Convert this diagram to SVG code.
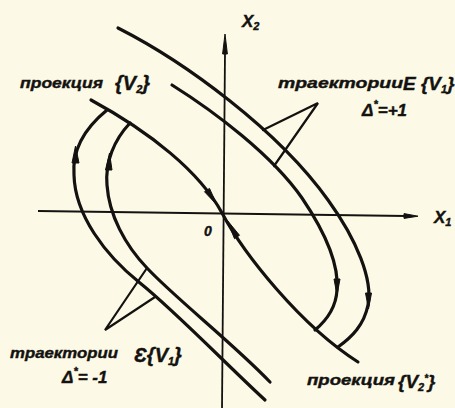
<svg xmlns="http://www.w3.org/2000/svg" width="455" height="408" viewBox="0 0 455 408">
<style>
.crv{fill:none;stroke:#141210;stroke-width:3.2;stroke-linecap:round;stroke-linejoin:round}
.ax{fill:none;stroke:#141210;stroke-width:1.8}
.ld{fill:none;stroke:#141210;stroke-width:2.2;stroke-linecap:round}
.ah{fill:#141210;stroke:#141210;stroke-width:1;stroke-linejoin:round}
.t{font-family:"Liberation Sans",Arial,sans-serif;font-style:italic;font-weight:bold;fill:#141210;stroke:#141210;stroke-width:0.4}
</style>
<rect width="455" height="408" fill="#fcfae6"/>
<g id="connectors">
  <g id="axes">
    <path class="ax" d="M38,211 L406,216"/>
    <polygon class="ah" points="418,216.2 404,213.6 404,218.4"/>
    <path class="ax" d="M222,408 L225,52"/>
    <polygon class="ah" points="225,34 222.6,54 227.4,54"/>
  </g>
  <g id="projection">
    <path class="crv" d="M91,100 C150,132 200,172 222,213 C244,254 300,325 358,362"/>
    <polygon class="ah" points="217,205 209.5,188.4 204.5,191.7"/>
    <polygon class="ah" points="227,220 239.5,235.3 234.5,238.7"/>
  </g>
  <g id="trajectories-right">
    <path class="crv" d="M172,85 C215,112 272,155 302,198 C327,235 339,265 337,290 C336,308 327,320 315,330"/>
    <path class="crv" d="M118,28 C185,62 278,130 328,200 C357,240 373,280 368,305 C364,325 352,337 338,347"/>
    <polygon class="ah" points="337,295 334,279 340,279"/>
    <polygon class="ah" points="368.5,309 365.5,293 371.5,293"/>
  </g>
  <g id="trajectories-left">
    <path class="crv" d="M107,110 C85,128 72,150 74,175 C75,215 105,255 140,283 C175,311 230,368 265,400"/>
    <path class="crv" d="M130,123 C114,140 105,162 107,185 C109,215 125,245 147,268 C175,298 235,345 270,382"/>
    <polygon class="ah" points="75.5,146 72,163 79,163"/>
    <polygon class="ah" points="109.5,153 105.5,170 112,170"/>
  </g>
  <g id="leaders">
    <path class="ld" d="M263,130 L318,103 L274,166"/>
    <path class="ld" d="M147,268 L105,330 L155,297"/>
  </g>
</g>
<g id="label-x2"><text class="t" x="242" y="27" font-size="17">X<tspan font-size="11" dy="3">2</tspan></text></g>
<g id="label-x1"><text class="t" x="434" y="223" font-size="17">X<tspan font-size="11" dy="3">1</tspan></text></g>
<g id="label-origin"><text class="t" x="204" y="236" font-size="14">0</text></g>
<g id="label-proj-v2">
  <text class="t" x="20" y="88" font-size="15" textLength="83" lengthAdjust="spacingAndGlyphs">проекция</text>
  <text class="t" x="115" y="90" font-size="20">{V<tspan font-size="11" dy="3">2</tspan><tspan dy="-3">}</tspan></text>
</g>
<g id="label-traj-plus">
  <text class="t" x="278" y="88" font-size="15" textLength="125" lengthAdjust="spacingAndGlyphs">траектории</text>
  <text class="t" x="403" y="90" font-size="19">Е {V<tspan font-size="11" dy="3">1</tspan><tspan dy="-3">}</tspan></text>
  <text class="t" x="362" y="116" font-size="17">Δ<tspan font-size="11" dy="-8">*</tspan><tspan dy="8">=+1</tspan></text>
</g>
<g id="label-traj-minus">
  <text class="t" x="10" y="358" font-size="15" textLength="108" lengthAdjust="spacingAndGlyphs">траектории</text>
  <text class="t" x="134" y="362" font-size="20">Ɛ{V<tspan font-size="11" dy="3">1</tspan><tspan dy="-3">}</tspan></text>
  <text class="t" x="62" y="383" font-size="17">Δ<tspan font-size="11" dy="-8">*</tspan><tspan dy="8">= -1</tspan></text>
</g>
<g id="label-proj-v2star">
  <text class="t" x="307" y="385" font-size="15" textLength="88" lengthAdjust="spacingAndGlyphs">проекция</text>
  <text class="t" x="398" y="388" font-size="19">{V<tspan font-size="11" dy="3">2</tspan><tspan font-size="10" dy="-9">*</tspan><tspan dy="6">}</tspan></text>
</g>
</svg>
